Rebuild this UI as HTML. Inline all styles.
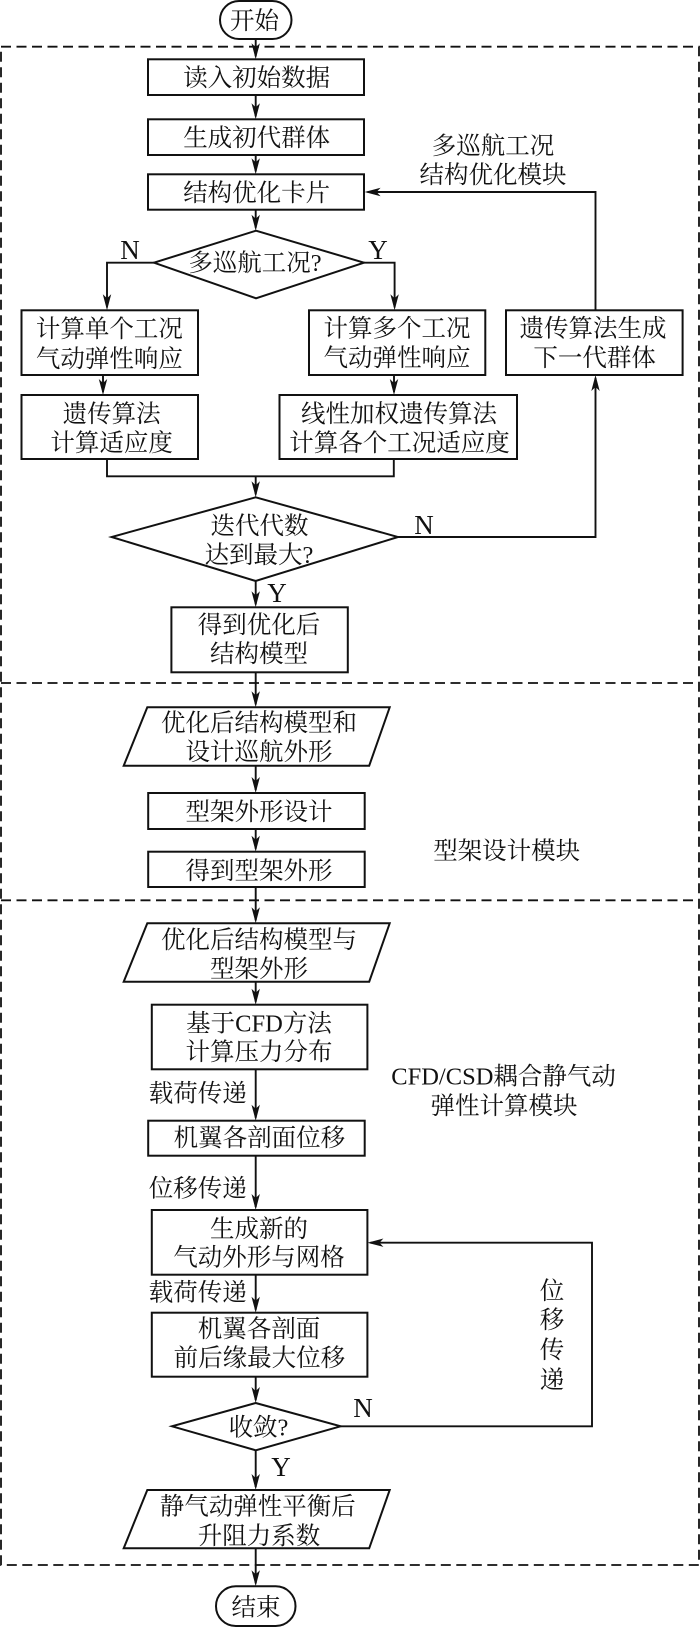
<!DOCTYPE html>
<html lang="zh">
<head>
<meta charset="utf-8">
<style>
html,body{margin:0;padding:0;background:#fff}
svg{display:block}
text{font-family:"Liberation Serif","Noto Serif CJK SC",serif;font-size:24.5px;fill:#111;text-anchor:middle}
text.b{font-size:27px}
.s{fill:#fff;stroke:#111;stroke-width:2}
.l{fill:none;stroke:#111;stroke-width:1.9;marker-end:url(#a)}
.n{fill:none;stroke:#111;stroke-width:1.9}
.d{fill:none;stroke:#111;stroke-width:1.8;stroke-dasharray:10 5.5}
</style>
</head>
<body>
<svg width="700" height="1627" viewBox="0 0 700 1627" xmlns="http://www.w3.org/2000/svg">
<defs>
<marker id="a" markerUnits="userSpaceOnUse" markerWidth="20" markerHeight="10" viewBox="-16 -5 20 10" refX="0" refY="0" orient="auto" overflow="visible">
<path d="M3,0 L-13,-4.2 L-9,0 L-13,4.2 Z" fill="#111"/>
</marker>
</defs>

<!-- dashed module frames -->
<path class="d" d="M1,46.7 H699 V1565 H1 Z"/>
<path class="d" d="M1,683 H699"/>
<path class="d" d="M1,900.3 H699"/>

<!-- connectors -->
<path class="l" d="M255.7,39 V56.3"/>
<path class="l" d="M255.7,95 V116.3"/>
<path class="l" d="M255.7,155 V171.3"/>
<path class="l" d="M255.7,209.7 V227.7"/>
<path class="l" d="M154,262.7 H107 V307.3"/>
<path class="l" d="M364,262.7 H394.6 V307.3"/>
<path class="l" d="M103,375 V392"/>
<path class="l" d="M394,375 V392"/>
<path class="n" d="M107,459 V476.3 H393.8 V459"/>
<path class="l" d="M255.7,476.3 V494.3"/>
<path class="l" d="M398,537 H595.5 V378"/>
<path class="l" d="M595.5,310.3 V192 H367.6"/>
<path class="l" d="M255.7,581 V604.3"/>
<path class="l" d="M255.7,672.3 V704.3"/>
<path class="l" d="M255.7,765.7 V790"/>
<path class="l" d="M255.7,829 V848.7"/>
<path class="l" d="M255.7,887 V920.3"/>
<path class="l" d="M255.7,981.7 V1001.7"/>
<path class="l" d="M255.7,1069.3 V1117.7"/>
<path class="l" d="M255.7,1155.7 V1207"/>
<path class="l" d="M255.7,1274.7 V1309.7"/>
<path class="l" d="M255.7,1376.7 V1400"/>
<path class="l" d="M255.7,1450.3 V1487"/>
<path class="l" d="M255.7,1548.3 V1583.3"/>
<path class="l" d="M340.6,1426.3 H592 V1242.7 H370.4"/>

<!-- nodes -->
<rect class="s" x="220" y="1" width="71.5" height="38" rx="19" ry="19"/>
<rect class="s" x="148" y="59.3" width="216" height="35.7"/>
<rect class="s" x="148" y="119.3" width="216" height="35.7"/>
<rect class="s" x="148" y="174.3" width="216" height="35.4"/>
<polygon class="s" points="256,230.7 364,262.7 256,298.3 154,262.7"/>
<rect class="s" x="21.5" y="310.3" width="176.5" height="64.7"/>
<rect class="s" x="309" y="310.3" width="176.3" height="64.7"/>
<rect class="s" x="506" y="310.3" width="176.6" height="64.7"/>
<rect class="s" x="21.5" y="395" width="176.5" height="64"/>
<rect class="s" x="279.5" y="395" width="237.5" height="64"/>
<polygon class="s" points="255.7,497.3 398,537 255.7,581 111.6,537"/>
<rect class="s" x="171.4" y="607.3" width="176.4" height="65"/>
<polygon class="s" points="147.3,707.3 389.7,707.3 369.2,765.7 123.7,765.7"/>
<rect class="s" x="148.2" y="793" width="216.5" height="36"/>
<rect class="s" x="148.2" y="851.7" width="216.5" height="35.3"/>
<polygon class="s" points="147.3,923.3 389.7,923.3 369.2,981.7 123.7,981.7"/>
<rect class="s" x="151.8" y="1004.7" width="215.6" height="64.6"/>
<rect class="s" x="148.2" y="1120.7" width="216.5" height="35"/>
<rect class="s" x="151.8" y="1210" width="215.6" height="64.7"/>
<rect class="s" x="151.8" y="1312.7" width="215.6" height="64"/>
<polygon class="s" points="255.7,1403 340.6,1426.3 255.7,1450.3 172,1426.3"/>
<polygon class="s" points="147.3,1490 389.7,1490 369.2,1548.3 123.7,1548.3"/>
<rect class="s" x="216" y="1586.3" width="79.5" height="39.7" rx="19.8" ry="19.8"/>

<!-- labels -->
<text x="254.5" y="29">开始</text>
<text x="256.7" y="86">读入初始数据</text>
<text x="256.7" y="146">生成初代群体</text>
<text x="256.7" y="201">结构优化卡片</text>
<text x="493" y="154">多巡航工况</text>
<text x="493" y="183">结构优化模块</text>
<text x="255" y="271">多巡航工况?</text>
<text class="b" x="130" y="259">N</text>
<text class="b" x="378" y="259">Y</text>
<text x="109.4" y="337">计算单个工况</text>
<text x="109.4" y="367">气动弹性响应</text>
<text x="397" y="336.7">计算多个工况</text>
<text x="397" y="366">气动弹性响应</text>
<text x="593" y="336.7">遗传算法生成</text>
<text x="594.6" y="366">下一代群体</text>
<text x="111.6" y="422">遗传算法</text>
<text x="111.6" y="451">计算适应度</text>
<text x="399" y="422">线性加权遗传算法</text>
<text x="399.5" y="451">计算各个工况适应度</text>
<text x="259.5" y="534">迭代代数</text>
<text x="259" y="563">达到最大?</text>
<text class="b" x="424" y="534">N</text>
<text class="b" x="277" y="602">Y</text>
<text x="259" y="633">得到优化后</text>
<text x="259" y="662">结构模型</text>
<text x="259" y="731">优化后结构模型和</text>
<text x="259" y="760">设计巡航外形</text>
<text x="259" y="820">型架外形设计</text>
<text x="259" y="879">得到型架外形</text>
<text x="506.7" y="859">型架设计模块</text>
<text x="259" y="948">优化后结构模型与</text>
<text x="259" y="977">型架外形</text>
<text x="259" y="1031.7">基于CFD方法</text>
<text x="259" y="1060">计算压力分布</text>
<text x="197.8" y="1101.7">载荷传递</text>
<text x="503.6" y="1084.7">CFD/CSD耦合静气动</text>
<text x="504" y="1114">弹性计算模块</text>
<text x="259.4" y="1146">机翼各剖面位移</text>
<text x="197.8" y="1196.7">位移传递</text>
<text x="259" y="1237">生成新的</text>
<text x="259" y="1265.7">气动外形与网格</text>
<text x="197.8" y="1300.7">载荷传递</text>
<text x="259" y="1337">机翼各剖面</text>
<text x="259.4" y="1366">前后缘最大位移</text>
<text x="552" y="1299">位</text>
<text x="552" y="1328">移</text>
<text x="552" y="1358">传</text>
<text x="552" y="1388">递</text>
<text x="258.5" y="1435.7">收敛?</text>
<text class="b" x="363" y="1417">N</text>
<text class="b" x="281" y="1476">Y</text>
<text x="257.8" y="1514.7">静气动弹性平衡后</text>
<text x="259" y="1544">升阻力系数</text>
<text x="256" y="1615.7">结束</text>
</svg>
</body>
</html>
